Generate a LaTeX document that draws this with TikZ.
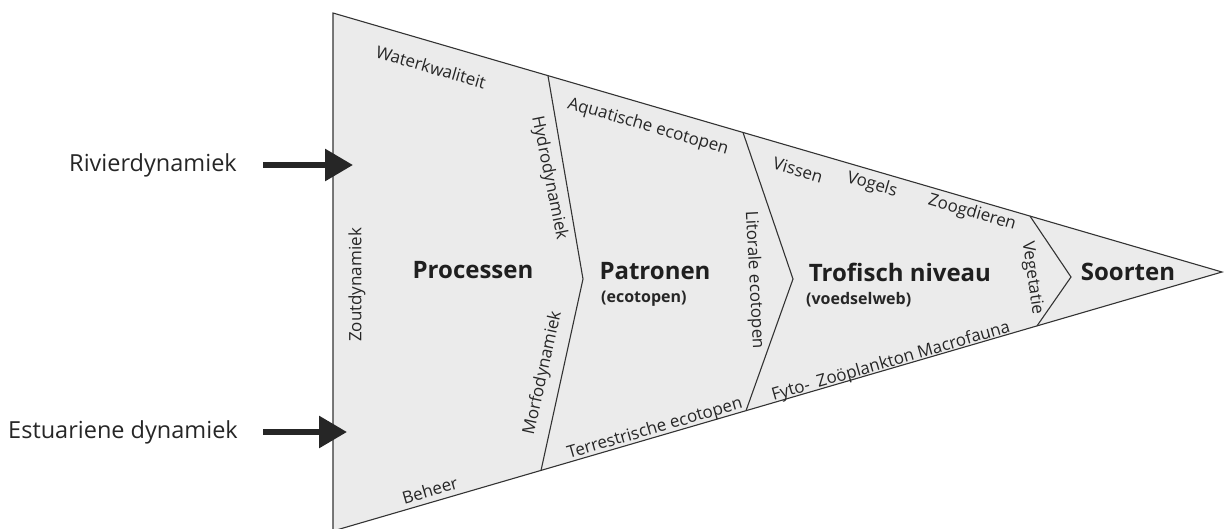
\documentclass[tikz,border=0pt]{standalone}
\usepackage{fontspec}
\setmainfont{Open Sans}
\usetikzlibrary{arrows.meta,calc}
\begin{document}
\begin{tikzpicture}[x=1pt,y=-1pt,
  edge/.style={draw=black!80, line width=1.1pt, line join=miter},
  lbl/.style={font=\fontsize{17}{20}\selectfont, inner sep=0pt, text=black!85},
  title/.style={font=\bfseries\fontsize{24}{28}\selectfont, inner sep=0pt, text=black!88},
  subtitle/.style={font=\bfseries\fontsize{16}{19}\selectfont, inner sep=0pt, text=black!85},
  side/.style={font=\fontsize{23.5}{27}\selectfont, inner sep=0pt, text=black!85},
  bigarrow/.style={line width=6pt, draw=black!85, -{Triangle[length=28pt,width=31pt]}},
]
\useasboundingbox (0,0) rectangle (1224,528);

% the wedge
\coordinate (tl) at (333,13);
\coordinate (bl) at (333,531);
\coordinate (apex) at (1222,272);
\fill[black!8] (tl) -- (apex) -- (bl) -- cycle;
\draw[edge] (tl) -- (apex) -- (bl) -- cycle;

% chevron dividers
\coordinate (d1t) at ($(tl)!0.2418!(apex)$);
\coordinate (d1p) at (583,279);
\coordinate (d1b) at ($(bl)!0.234!(apex)$);
\coordinate (d2t) at ($(tl)!0.4612!(apex)$);
\coordinate (d2p) at (793,279);
\coordinate (d2b) at ($(bl)!0.4646!(apex)$);
\coordinate (d3t) at ($(tl)!0.7840!(apex)$);
\coordinate (d3p) at (1071,277);
\coordinate (d3b) at ($(bl)!0.7919!(apex)$);
\draw[edge] (d1t) -- (d1p) -- (d1b);
\draw[edge] (d2t) -- (d2p) -- (d2b);
\draw[edge] (d3t) -- (d3p) -- (d3b);

% stage titles
\node[title] (proc) at (473,270) {Processen};
\node[title] (patr) at (655,271) {Patronen};
\node[subtitle, anchor=west] (patrsub) at (601,299) {(ecotopen)};
\node[title] (trof) at (900,272) {Trofisch niveau};
\node[subtitle, anchor=west] (trofsub) at (806,300) {(voedselweb)};
\node[title] (soort) at (1128,272) {Soorten};

% labels along the edges and dividers
\node[lbl, rotate=-16.2] (wk) at (431,67) {Waterkwaliteit};
\node[lbl, rotate=-78.5] (hyd) at (549,178) {Hydrodynamiek};
\node[lbl, rotate=90] (zout) at (357,285) {Zoutdynamiek};
\node[lbl, rotate=77.5] (morf) at (543,373) {Morfodynamiek};
\node[lbl, rotate=16.2] (beh) at (430,490) {Beheer};
\node[lbl, rotate=-16.2] (aqua) at (648,127) {Aquatische ecotopen};
\node[lbl, rotate=-87] (lit) at (754,280) {Litorale ecotopen};
\node[lbl, rotate=16.2] (terr) at (655,429) {Terrestrische ecotopen};
\node[lbl, rotate=-16.2] (vis) at (798,170) {Vissen};
\node[lbl, rotate=-16.2] (vog) at (872,185) {Vogels};
\node[lbl, rotate=-16.2] (zoog) at (972,213) {Zoogdieren};
\node[lbl, rotate=-82] (veg) at (1032,278) {Vegetatie};
\node[lbl, rotate=16.2] (plank) at (891,362) {Fyto-\hspace{8pt}Zoöplankton Macrofauna};

% external drivers
\node[side, anchor=east] (riv) at (237,165) {Rivierdynamiek};
\coordinate (rivtip) at (353,165);
\draw[bigarrow] ([xshift=26pt]riv.east) -- (rivtip);
\node[side, anchor=east] (est) at (238,432) {Estuariene dynamiek};
\coordinate (esttip) at (347,432);
\draw[bigarrow] ([xshift=25pt]est.east) -- (esttip);
\end{tikzpicture}
\end{document}
